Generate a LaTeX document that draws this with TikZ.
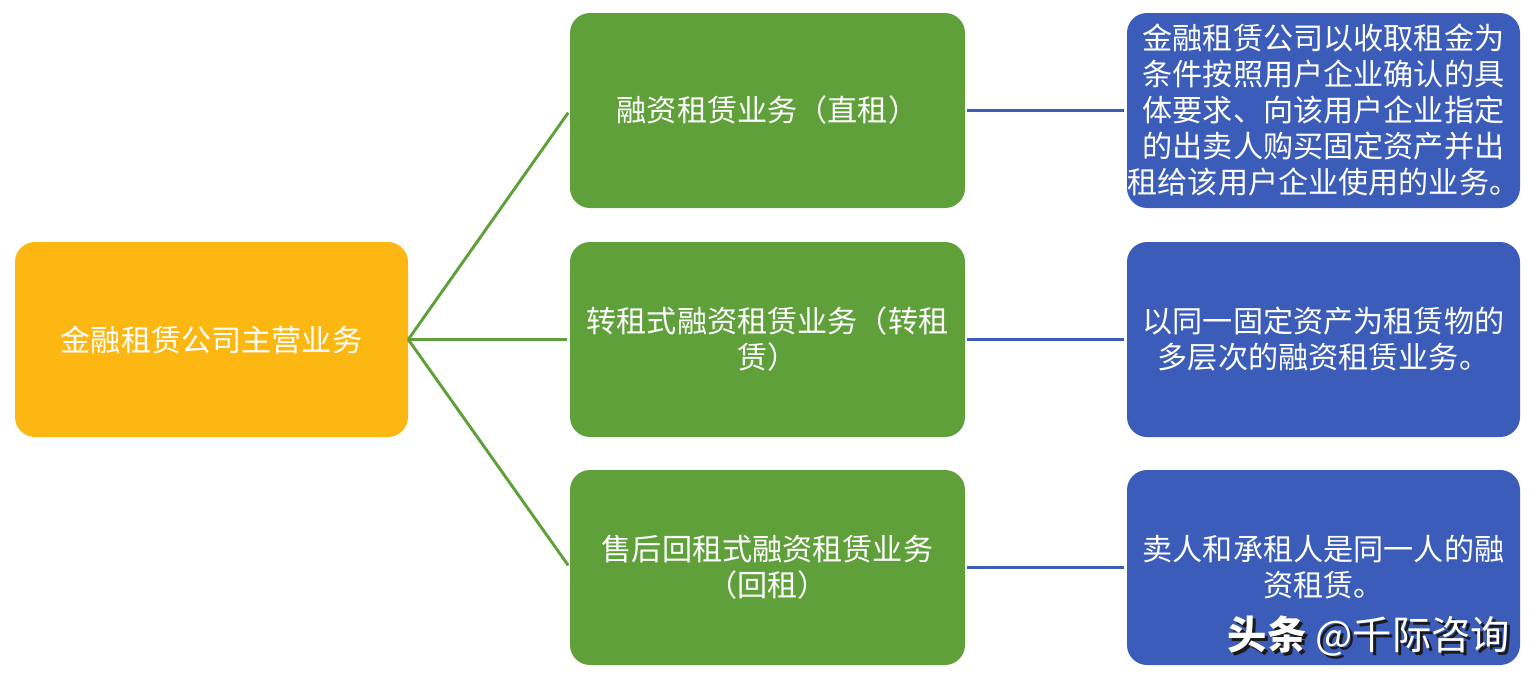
\documentclass[tikz,border=0pt]{standalone}
\usepackage{fontspec}
\setmainfont{Noto Sans CJK SC}
\newfontfamily\cjk{Noto Sans CJK SC}
\definecolor{orangebox}{HTML}{FDB712}
\definecolor{greenbox}{HTML}{60A03A}
\definecolor{bluebox}{HTML}{3B5CB8}
\definecolor{shadowc}{HTML}{1A1A1A}
\tikzset{
  basebox/.style={rounded corners=15pt, minimum height=146.25pt, inner sep=0pt,
    text=white, align=center, font=\cjk\fontsize{22.6}{27}\selectfont},
  orangenode/.style={basebox, fill=orangebox, minimum width=294.75pt},
  greennode/.style={basebox, fill=greenbox, minimum width=296.25pt},
  bluenode/.style={basebox, fill=bluebox, minimum width=294.75pt},
  glink/.style={draw=greenbox, line width=2.2pt},
  blink/.style={draw=bluebox, line width=2.2pt, shorten <=1pt, shorten >=2pt},
}
\begin{document}
\begin{tikzpicture}[x=0.75pt,y=-0.75pt]
\useasboundingbox (0,0) rectangle (1532,678);
\node[orangenode] (main) at (211.5,339.5) {金融租赁公司主营业务};
\node[greennode] (g1) at (767.5,110.5) {融资租赁业务（直租）};
\node[greennode] (g2) at (767.5,339.5) {转租式融资租赁业务（转租\\赁）};
\node[greennode] (g3) at (767.5,567.5) {售后回租式融资租赁业务\\（回租）};
\node[bluenode] (b1) at (1323.5,110.5) {金融租赁公司以收取租金为\\条件按照用户企业确认的具\\体要求、向该用户企业指定\\的出卖人购买固定资产并出\\租给该用户企业使用的业务。};
\node[bluenode] (b2) at (1323.5,339.5) {以同一固定资产为租赁物的\\多层次的融资租赁业务。};
\node[bluenode] (b3) at (1323.5,567.5) {卖人和承租人是同一人的融\\资租赁。};
\draw[glink, shorten >=2pt] (main.east) -- (g1.west);
\draw[glink, shorten >=2pt] (main.east) -- (g2.west);
\draw[glink, shorten >=2pt] (main.east) -- (g3.west);
\draw[blink] (g1.east) -- (b1.west);
\draw[blink] (g2.east) -- (b2.west);
\draw[blink] (g3.east) -- (b3.west);
\node[font=\cjk\fontsize{29.5}{32}\selectfont, text=shadowc, anchor=center] (tagshadow) at (1372,639) {\bfseries 头条 \mdseries @千际咨询};
\node[font=\cjk\fontsize{29.5}{32}\selectfont, text=white, anchor=center] (tag) at (1369,636) {\bfseries 头条 \mdseries @千际咨询};
\end{tikzpicture}
\end{document}
